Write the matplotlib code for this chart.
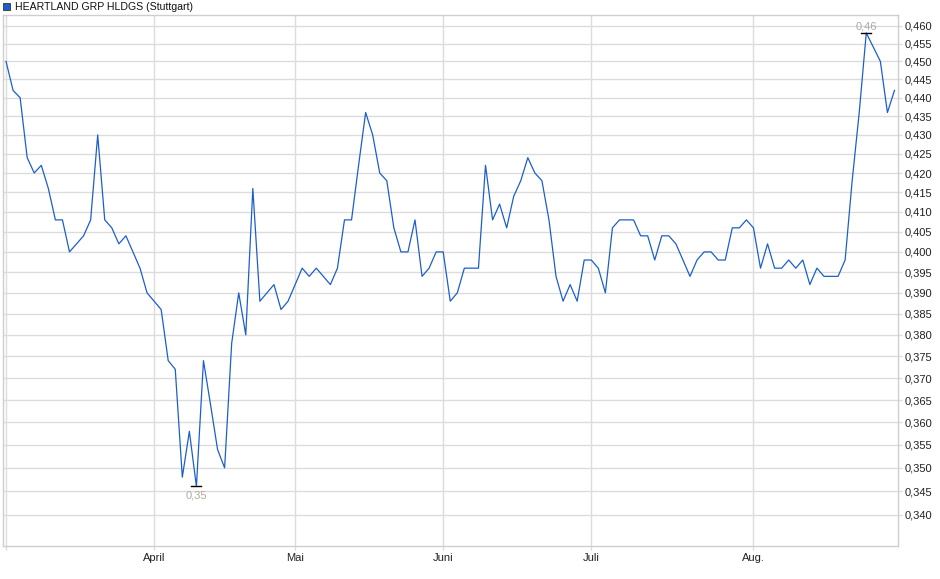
import numpy as np
import matplotlib
matplotlib.use('Agg')
import matplotlib.pyplot as plt
from matplotlib.ticker import FixedLocator, FuncFormatter, NullLocator

plt.rcParams['font.family'] = ['Liberation Sans', 'DejaVu Sans']

# daily closing prices (trading day index 0..126)
prices = [
    0.450, 0.442, 0.440, 0.424, 0.420, 0.422, 0.416, 0.408, 0.408, 0.400,
    0.402, 0.404, 0.408, 0.430, 0.408, 0.406, 0.402, 0.404, 0.400, 0.396,
    0.390, 0.388, 0.386, 0.374, 0.372, 0.348, 0.358, 0.346, 0.374, 0.364,
    0.354, 0.350, 0.378, 0.390, 0.380, 0.416, 0.388, 0.390, 0.392, 0.386,
    0.388, 0.392, 0.396, 0.394, 0.396, 0.394, 0.392, 0.396, 0.408, 0.408,
    0.422, 0.436, 0.430, 0.420, 0.418, 0.406, 0.400, 0.400, 0.408, 0.394,
    0.396, 0.400, 0.400, 0.388, 0.390, 0.396, 0.396, 0.396, 0.422, 0.408,
    0.412, 0.406, 0.414, 0.418, 0.424, 0.420, 0.418, 0.408, 0.394, 0.388,
    0.392, 0.388, 0.398, 0.398, 0.396, 0.390, 0.406, 0.408, 0.408, 0.408,
    0.404, 0.404, 0.398, 0.404, 0.404, 0.402, 0.398, 0.394, 0.398, 0.400,
    0.400, 0.398, 0.398, 0.406, 0.406, 0.408, 0.406, 0.396, 0.402, 0.396,
    0.396, 0.398, 0.396, 0.398, 0.392, 0.396, 0.394, 0.394, 0.394, 0.398,
    0.418, 0.436, 0.458, 0.454, 0.450, 0.436, 0.442,
]

# month starts as trading day index
month_pos = [0, 21, 41, 62, 83, 106]
month_labels = ['', 'April', 'Mai', 'Juni', 'Juli', 'Aug.']

y_ticks = [0.340, 0.345, 0.350, 0.355, 0.360, 0.365, 0.370, 0.375, 0.380,
           0.385, 0.390, 0.395, 0.400, 0.405, 0.410, 0.415, 0.420, 0.425,
           0.430, 0.435, 0.440, 0.445, 0.450, 0.455, 0.460]

title = 'HEARTLAND GRP HLDGS (Stuttgart)'
line_color = '#1c5fc9'
grid_color = '#dcdcdc'

x = np.arange(len(prices))

fig = plt.figure(figsize=(9.4, 5.79), dpi=100)
ax = fig.add_axes([3 / 940, 33 / 579, 895 / 940, 531 / 579])

ax.plot(x, prices, color=line_color, lw=0.9, zorder=3)

ax.set_yscale('log')
ax.set_ylim(0.3335, 0.4631)
ax.set_xlim(-0.43, 126.5)

ax.yaxis.set_major_locator(FixedLocator(y_ticks))
ax.yaxis.set_minor_locator(NullLocator())
ax.yaxis.set_major_formatter(FuncFormatter(lambda v, p: f'{v:.3f}'.replace('.', ',')))
ax.yaxis.tick_right()

ax.set_xticks(month_pos)
ax.set_xticklabels(month_labels)

ax.grid(True, color=grid_color, lw=1, zorder=0)
for s in ax.spines.values():
    s.set_color('#cfcfcf')
    s.set_linewidth(1)
ax.tick_params(axis='y', length=3, width=1, color=grid_color, pad=2,
               labelsize=8, labelcolor='#222222')
ax.tick_params(axis='x', length=3, width=1, color=grid_color, pad=2,
               labelsize=8, labelcolor='#222222')

# min / max markers
i_min = int(np.argmin(prices))
i_max = int(np.argmax(prices))
ax.plot([i_min - 0.7, i_min + 0.7], [prices[i_min]] * 2, color='black', lw=1, zorder=4)
ax.plot([i_max - 0.7, i_max + 0.7], [prices[i_max]] * 2, color='black', lw=1, zorder=4)
ax.annotate(f'{prices[i_min]:.2f}'.replace('.', ','), (i_min, prices[i_min]),
            xytext=(0, -3), textcoords='offset points', ha='center', va='top',
            fontsize=8, color='#b3a999')
ax.annotate(f'{prices[i_max]:.2f}'.replace('.', ','), (i_max, prices[i_max]),
            xytext=(0, 1), textcoords='offset points', ha='center', va='bottom',
            fontsize=8, color='#aaaaaa')

# legend-like title
fig.patches.append(plt.Rectangle((3 / 940, 1 - 10 / 579), 7 / 940, 7 / 579,
                                 transform=fig.transFigure, facecolor=line_color,
                                 edgecolor='#333333', lw=0.6))
fig.text(15 / 940, 1 - 7 / 579, title, fontsize=7.6, va='center', ha='left',
         color='#111111')

fig.savefig('out.png', dpi=100)
